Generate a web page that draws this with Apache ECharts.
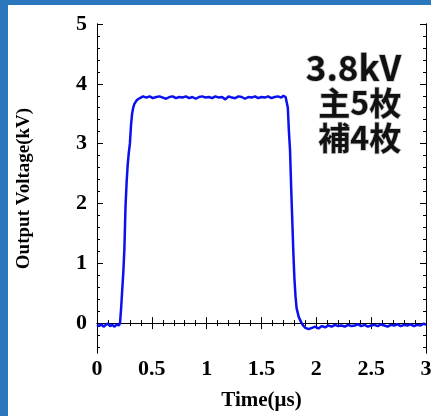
<!DOCTYPE html>
<html>
<head>
<meta charset="utf-8">
<script src="https://cdn.jsdelivr.net/npm/echarts@6/dist/echarts.min.js"></script>
<style>
html,body{margin:0;padding:0;background:#2b77bd;width:431px;height:416px;overflow:hidden;}
#bg{position:absolute;left:8px;top:5px;right:0;bottom:0;background:#ffffff;}
#chart{position:absolute;left:0;top:0;width:431px;height:416px;}
</style>
</head>
<body>
<div id="bg"></div>
<div id="chart"></div>
<script>
// ---- data ----
var timeUs = [
  0.00,0.02,0.04,0.06,0.08,0.10,0.12,0.14,0.16,0.18,0.20,
  0.21,0.22,0.23,0.24,0.25,0.26,0.27,0.28,0.29,0.30,0.31,0.32,0.33,0.34,0.36,0.38,0.40,0.42,
  0.45,0.48,0.51,0.54,0.57,0.60,0.63,0.66,0.69,0.72,0.75,0.78,0.81,0.84,0.87,0.90,0.93,0.96,0.99,
  1.02,1.05,1.08,1.11,1.14,1.17,1.20,1.23,1.26,1.29,1.32,1.35,1.38,1.41,1.44,1.47,1.50,1.53,1.56,
  1.59,1.62,1.65,1.68,1.70,1.72,
  1.73,1.74,1.75,1.76,1.77,1.78,1.79,1.80,1.81,1.82,1.84,1.86,1.88,1.90,1.93,1.96,
  1.99,2.02,2.05,2.08,2.11,2.14,2.17,2.20,2.23,2.26,2.29,2.32,2.35,2.38,2.41,2.44,2.47,2.50,
  2.53,2.56,2.59,2.62,2.65,2.68,2.71,2.74,2.77,2.80,2.83,2.86,2.89,2.92,2.95,2.98,3.00
];
var voltageKV = [
  -0.03,-0.05,-0.02,-0.06,-0.03,-0.01,-0.05,-0.03,-0.06,-0.02,-0.04,
  0.00,0.25,0.55,0.85,1.25,1.95,2.35,2.65,2.85,3.00,3.30,3.50,3.60,3.66,3.72,3.75,3.77,3.79,
  3.77,3.79,3.76,3.78,3.79,3.77,3.75,3.78,3.79,3.76,3.78,3.77,3.79,3.76,3.78,3.75,3.78,3.79,3.77,
  3.78,3.76,3.79,3.77,3.78,3.74,3.79,3.77,3.76,3.79,3.78,3.75,3.78,3.77,3.79,3.76,3.78,3.77,3.79,
  3.76,3.78,3.79,3.77,3.80,3.78,
  3.78,3.60,3.20,2.90,2.30,1.75,1.20,0.75,0.45,0.25,0.10,0.02,-0.04,-0.08,-0.10,-0.08,
  -0.06,-0.09,-0.05,-0.07,-0.04,-0.06,-0.03,-0.05,-0.04,-0.06,-0.03,-0.05,-0.04,-0.02,-0.05,-0.03,-0.06,-0.04,
  -0.03,-0.05,-0.02,-0.04,-0.06,-0.03,-0.04,-0.02,-0.05,-0.03,-0.04,-0.02,-0.05,-0.03,-0.04,-0.01,-0.03
];
var yMajorTicks = [0, 1, 2, 3, 4, 5];
var yMinorTicks = [-0.4,-0.2,0.2,0.4,0.6,0.8,1.2,1.4,1.6,1.8,2.2,2.4,2.6,2.8,3.2,3.4,3.6,3.8,4.2,4.4,4.6,4.8];
var noteLines = ['3.8kV', '主5枚', '補4枚'];
var xName = 'Time(μs)';
var yName = 'Output Voltage(kV)';

// ---- chart ----
var seriesData = timeUs.map(function (t, i) { return [t, voltageKV[i]]; });
var serif = '"Liberation Serif","Times New Roman",serif';
var lineStyle = { color: '#000', width: 1 };

function yAxisCfg(pos, ticks, len, labels) {
  return {
    type: 'value', position: pos, min: -0.5, max: 5,
    name: labels ? yName : '',
    nameLocation: 'middle', nameGap: 63,
    nameTextStyle: { fontFamily: serif, fontWeight: 'bold', fontSize: 19, color: '#000' },
    axisLine: { show: true, lineStyle: lineStyle },
    axisTick: { show: true, inside: true, length: len, customValues: ticks, lineStyle: lineStyle },
    axisLabel: labels ? { show: true, customValues: yMajorTicks, margin: 10,
      fontFamily: serif, fontWeight: 'bold', fontSize: 22, color: '#000' } : { show: false },
    splitLine: { show: false }
  };
}
function xAxisCfg(pos, labels) {
  return {
    type: 'value', position: pos, min: 0, max: 3, interval: 0.5,
    name: labels ? xName : '',
    nameLocation: 'middle', nameGap: 37,
    nameTextStyle: { fontFamily: serif, fontWeight: 'bold', fontSize: 21, color: '#000' },
    axisLine: { show: true, lineStyle: lineStyle },
    axisTick: { show: true, inside: true, length: 6, lineStyle: lineStyle },
    minorTick: { show: true, splitNumber: 5, length: 3, lineStyle: lineStyle },
    axisLabel: labels ? { show: true, margin: 5, fontFamily: serif, fontWeight: 'bold', fontSize: 22, color: '#000' } : { show: false },
    splitLine: { show: false }, minorSplitLine: { show: false }
  };
}

var chart = echarts.init(document.getElementById('chart'), null, { renderer: 'canvas' });
var noteFont = '"Noto Sans CJK JP","Noto Sans",sans-serif';
var noteTops = [49, 86, 121];
var noteSizes = [35, 32, 32];
chart.setOption({
  backgroundColor: 'transparent',
  animation: false,
  grid: { left: 97, top: 24, right: 5, bottom: 63, containLabel: false, outerBoundsMode: 'none' },
  xAxis: [xAxisCfg('bottom', true), xAxisCfg('top', false)],
  yAxis: [
    yAxisCfg('left', yMajorTicks, 6, true),
    yAxisCfg('left', yMinorTicks, 3, false),
    yAxisCfg('right', yMajorTicks, 6, false),
    yAxisCfg('right', yMinorTicks, 3, false)
  ],
  series: [{
    type: 'line', xAxisIndex: 0, yAxisIndex: 0,
    data: seriesData, showSymbol: false, symbol: 'none',
    lineStyle: { color: '#0a10ee', width: 2.5 }
  }],
  graphic: noteLines.map(function (s, i) {
    return {
      type: 'text', right: 29, top: noteTops[i], z: 10,
      style: {
        text: s, fill: '#111', font: 'bold ' + noteSizes[i] + 'px ' + noteFont,
        stroke: '#c8c8c8', lineWidth: 1.5, textAlign: 'right'
      }
    };
  })
});
</script>
</body>
</html>
